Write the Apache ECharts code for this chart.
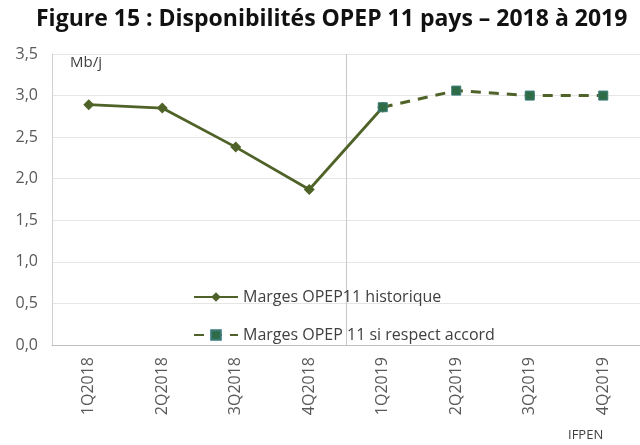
<!DOCTYPE html>
<html><head><meta charset="utf-8">
<script src="https://cdn.jsdelivr.net/npm/echarts@6/dist/echarts.min.js"></script>
<style>html,body{margin:0;padding:0;background:#fff}#c{width:640px;height:445px}</style>
</head><body><div id="c"></div>
<script>
const categories = ['1Q2018','2Q2018','3Q2018','4Q2018','1Q2019','2Q2019','3Q2019','4Q2019'];
const historique = [2.89, 2.85, 2.38, 1.87, 2.86, null, null, null];
const accord = [null, null, null, null, 2.86, 3.06, 3.00, 3.00];
const yTicks = [0, 0.5, 1, 1.5, 2, 2.5, 3, 3.5];
const seriesNames = ['Marges OPEP11 historique', 'Marges OPEP 11 si respect accord'];
const separatorAt = 4; // boundary between 2018 and 2019 quarters

const chart = echarts.init(document.getElementById('c'), null, {renderer:'canvas'});
chart.setOption({
  animation:false,
  backgroundColor:'#fff',
  title:[
    {text:'Figure 15 : Disponibilités OPEP 11 pays – 2018 à 2019', left:31, top:3,
     textStyle:{fontFamily:'Open Sans', fontWeight:'bold', fontSize:23, color:'#111'}},
    {text:'Mb/j', left:65, top:50, textStyle:{fontFamily:'Open Sans', fontWeight:'normal', fontSize:15, color:'#404040'}},
    {text:'IFPEN', left:563, top:424, textStyle:{fontFamily:'Open Sans', fontWeight:'normal', fontSize:13, color:'#404040'}}
  ],
  grid:{left:52, right:0, top:54, bottom:100},
  legend:{
    orient:'vertical', left:188, top:284, itemGap:22, itemWidth:44, itemHeight:12,
    textStyle:{fontFamily:'Open Sans', fontSize:16, color:'#404040'},
    data:seriesNames
  },
  xAxis:[{
    type:'category', data:categories, boundaryGap:true,
    axisLine:{lineStyle:{color:'#bfbfbf', width:1}},
    axisTick:{show:false},
    axisLabel:{rotate:90, fontFamily:'Open Sans', fontSize:16, color:'#595959', margin:12},
    splitLine:{show:false}
  },{
    type:'value', min:0, max:categories.length, interval:separatorAt, show:true,
    position:'bottom',
    axisLine:{show:false}, axisTick:{show:false}, axisLabel:{show:false},
    splitLine:{show:true, lineStyle:{color:'#c8c8c8', width:1}}
  }],
  yAxis:{
    type:'value', min:0, max:3.5, interval:0.5,
    axisLine:{show:true, lineStyle:{color:'#d0d0d0'}},
    axisTick:{show:false},
    axisLabel:{fontFamily:'Open Sans', fontSize:16, color:'#595959', margin:14,
      formatter:function(v){return yTicks.indexOf(v)>=0 ? v.toFixed(1).replace('.', ',') : '';}},
    splitLine:{lineStyle:{color:'#e6e6e6', width:1}}
  },
  series:[
    {name:seriesNames[0], type:'line', data:historique, xAxisIndex:0,
     symbol:'diamond', symbolSize:11, lineStyle:{color:'#4f6228', width:2.8},
     itemStyle:{color:'#4f6228'}},
    {name:seriesNames[1], type:'line', data:accord, xAxisIndex:0,
     symbol:'rect', symbolSize:9, lineStyle:{color:'#4f6228', width:3, type:[10,8]},
     itemStyle:{color:'#2f6b46', borderColor:'#3a7a7a', borderWidth:1}}
  ]
});
</script></body></html>
